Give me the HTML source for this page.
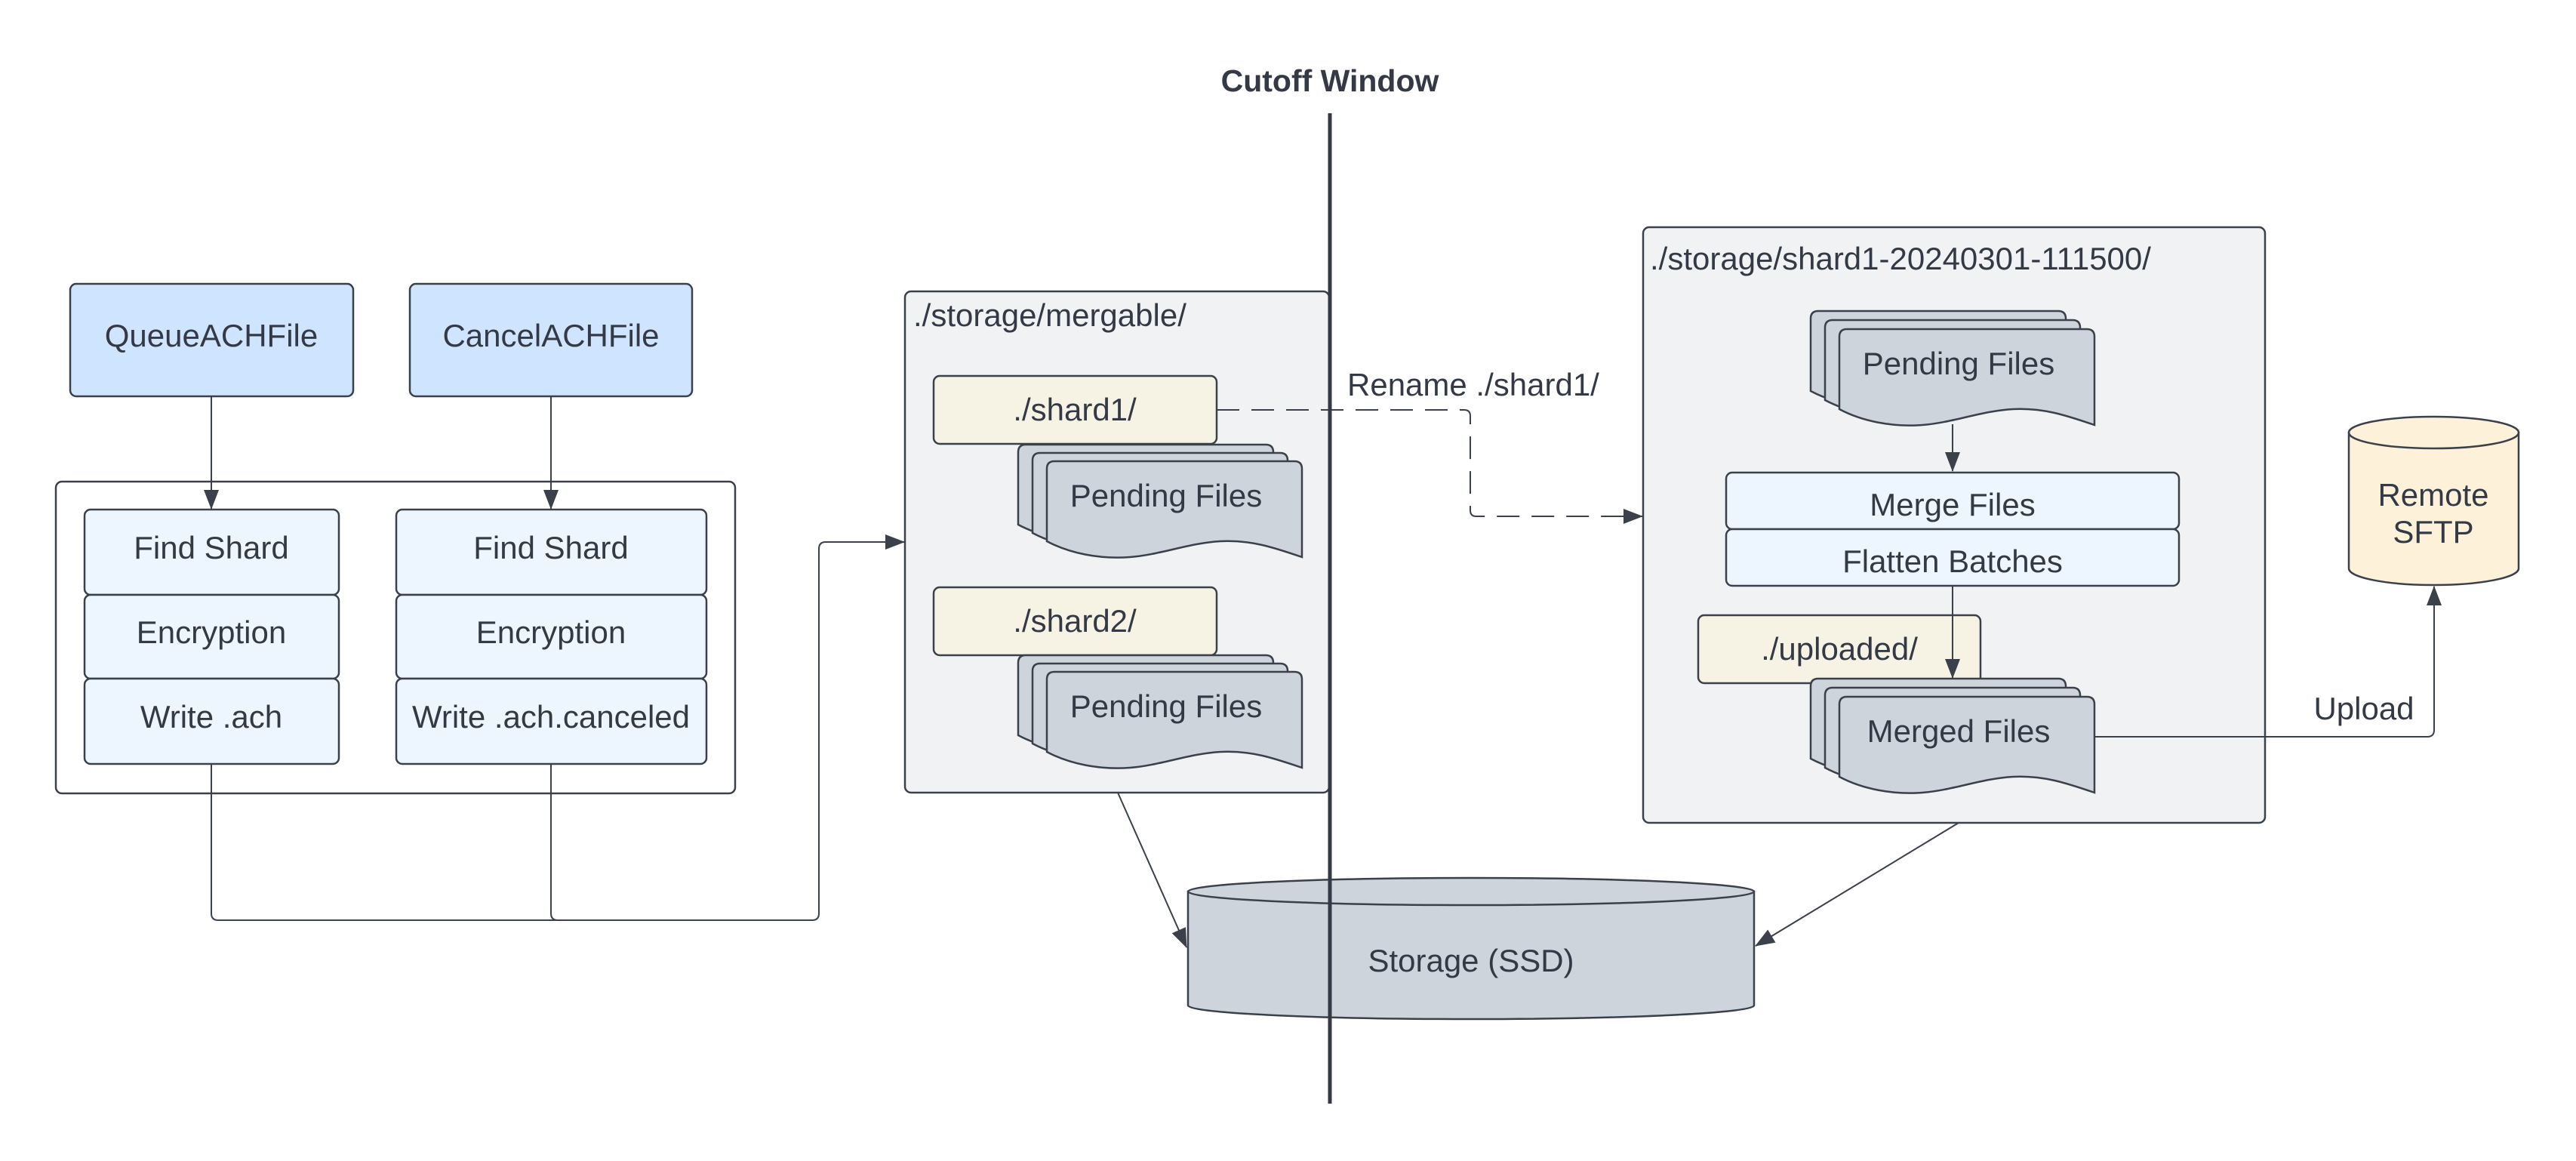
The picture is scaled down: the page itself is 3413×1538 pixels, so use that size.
<!DOCTYPE html>
<html><head><meta charset="utf-8"><style>
html,body{margin:0;padding:0;background:#fff;}
svg{display:block;}
text{font-family:"Liberation Sans",sans-serif;font-size:42px;fill:#333a45;}
</style></head><body>
<svg width="3413" height="1538" viewBox="0 0 3413 1538" xmlns="http://www.w3.org/2000/svg">
<defs>
<marker id="ah" viewBox="0 0 26 22" refX="25" refY="11" markerWidth="26" markerHeight="22" markerUnits="userSpaceOnUse" orient="auto">
<path d="M0,1 L26,11 L0,21 Z" fill="#3a414a"/>
</marker>
<path id="doc" d="M0,106 L0,10 Q0,0 10,0 L328,0 Q338,0 338,10 L338,127 C300,114 270,104 230,106 C190,108 150,124 110,127 C70,130 30,122 0,106 Z" fill="#cdd4dc" stroke="#3a414a" stroke-width="2.5"/>
</defs>

<text x="1762" y="121" text-anchor="middle" font-weight="bold" style="font-size:41px">Cutoff Window</text>

<rect x="93" y="376" width="375" height="149" rx="8" fill="#cfe4ff" stroke="#3a414a" stroke-width="2.5"/>
<text x="280" y="459" text-anchor="middle">QueueACHFile</text>
<rect x="543" y="376" width="374" height="149" rx="8" fill="#cfe4ff" stroke="#3a414a" stroke-width="2.5"/>
<text x="730" y="459" text-anchor="middle">CancelACHFile</text>

<rect x="74" y="638" width="900" height="413" rx="8" fill="#fff" stroke="#3a414a" stroke-width="2.5"/>

<rect x="112" y="675" width="337" height="113" rx="8" fill="#edf5ff" stroke="#3a414a" stroke-width="2.5"/>
<rect x="112" y="788" width="337" height="111" rx="8" fill="#edf5ff" stroke="#3a414a" stroke-width="2.5"/>
<rect x="112" y="899" width="337" height="113" rx="8" fill="#edf5ff" stroke="#3a414a" stroke-width="2.5"/>
<text x="280" y="740" text-anchor="middle">Find Shard</text>
<text x="280" y="852" text-anchor="middle">Encryption</text>
<text x="280" y="964" text-anchor="middle">Write .ach</text>

<rect x="525" y="675" width="411" height="113" rx="8" fill="#edf5ff" stroke="#3a414a" stroke-width="2.5"/>
<rect x="525" y="788" width="411" height="111" rx="8" fill="#edf5ff" stroke="#3a414a" stroke-width="2.5"/>
<rect x="525" y="899" width="411" height="113" rx="8" fill="#edf5ff" stroke="#3a414a" stroke-width="2.5"/>
<text x="730" y="740" text-anchor="middle">Find Shard</text>
<text x="730" y="852" text-anchor="middle">Encryption</text>
<text x="730" y="964" text-anchor="middle">Write .ach.canceled</text>

<g fill="none" stroke="#3a414a" stroke-width="2">
<line x1="280" y1="525" x2="280" y2="674" marker-end="url(#ah)"/>
<line x1="730" y1="525" x2="730" y2="674" marker-end="url(#ah)"/>
<path d="M280,1012 L280,1210 Q280,1219 289,1219 L1076,1219 Q1085,1219 1085,1210 L1085,727 Q1085,718 1094,718 L1198,718" marker-end="url(#ah)"/>
<path d="M730,1012 L730,1210 Q730,1219 739,1219"/>
</g>

<rect x="1199" y="386" width="562" height="664" rx="8" fill="#f1f2f4" stroke="#3a414a" stroke-width="2.5"/>
<text x="1210" y="432">./storage/mergable/</text>
<rect x="1237" y="498" width="375" height="90" rx="8" fill="#f6f3e4" stroke="#3a414a" stroke-width="2.5"/>
<text x="1424" y="557" text-anchor="middle">./shard1/</text>
<use href="#doc" x="1349" y="589"/>
<use href="#doc" x="1368" y="600"/>
<use href="#doc" x="1387" y="611"/>
<text x="1545" y="671" text-anchor="middle">Pending Files</text>
<rect x="1237" y="778" width="375" height="90" rx="8" fill="#f6f3e4" stroke="#3a414a" stroke-width="2.5"/>
<text x="1424" y="837" text-anchor="middle">./shard2/</text>
<use href="#doc" x="1349" y="868"/>
<use href="#doc" x="1368" y="879"/>
<use href="#doc" x="1387" y="890"/>
<text x="1545" y="950" text-anchor="middle">Pending Files</text>

<text x="1785" y="524">Rename ./shard1/</text>
<path d="M1612,543 L1940,543 Q1948,543 1948,551 L1948,676 Q1948,684 1956,684 L2176,684" fill="none" stroke="#3a414a" stroke-width="2" stroke-dasharray="30,16" marker-end="url(#ah)"/>

<rect x="2177" y="301" width="824" height="789" rx="8" fill="#f1f2f4" stroke="#3a414a" stroke-width="2.5"/>
<text x="2186" y="357">./storage/shard1-20240301-111500/</text>
<use href="#doc" x="2399" y="412"/>
<use href="#doc" x="2418" y="424"/>
<use href="#doc" x="2437" y="436"/>
<text x="2595" y="496" text-anchor="middle">Pending Files</text>
<line x1="2587" y1="562" x2="2587" y2="624" stroke="#3a414a" stroke-width="2" marker-end="url(#ah)"/>
<rect x="2287" y="626" width="600" height="75" rx="8" fill="#edf5ff" stroke="#3a414a" stroke-width="2.5"/>
<text x="2587" y="683" text-anchor="middle">Merge Files</text>
<rect x="2287" y="701" width="600" height="75" rx="8" fill="#edf5ff" stroke="#3a414a" stroke-width="2.5"/>
<text x="2587" y="758" text-anchor="middle">Flatten Batches</text>
<rect x="2250" y="815" width="374" height="90" rx="8" fill="#f6f3e4" stroke="#3a414a" stroke-width="2.5"/>
<text x="2437" y="874" text-anchor="middle">./uploaded/</text>
<line x1="2587" y1="776" x2="2587" y2="898" stroke="#3a414a" stroke-width="2" marker-end="url(#ah)"/>
<use href="#doc" x="2399" y="899"/>
<use href="#doc" x="2418" y="911"/>
<use href="#doc" x="2437" y="923"/>
<text x="2595" y="983" text-anchor="middle">Merged Files</text>

<path d="M2775,976 L3216,976 Q3225,976 3225,967 L3225,777" fill="none" stroke="#3a414a" stroke-width="2" marker-end="url(#ah)"/>
<text x="3132" y="953" text-anchor="middle">Upload</text>

<path d="M3112,573 L3112,753 A112.5,22 0 0 0 3337,753 L3337,573 Z" fill="#fdf1d9" stroke="#3a414a" stroke-width="2.5"/>
<ellipse cx="3224.5" cy="573" rx="112.5" ry="21" fill="#fdf1d9" stroke="#3a414a" stroke-width="2.5"/>
<text x="3224" y="670" text-anchor="middle">Remote</text>
<text x="3224" y="719" text-anchor="middle">SFTP</text>

<path d="M1574,1181 L1574,1332 A375,18 0 0 0 2324,1332 L2324,1181 Z" fill="#cdd4dc" stroke="#3a414a" stroke-width="2.5"/>
<ellipse cx="1949" cy="1181" rx="375" ry="18" fill="#cdd4dc" stroke="#3a414a" stroke-width="2.5"/>
<text x="1949" y="1287" text-anchor="middle">Storage (SSD)</text>

<line x1="1481" y1="1050" x2="1572" y2="1255" stroke="#3a414a" stroke-width="2" marker-end="url(#ah)"/>
<line x1="2595" y1="1090" x2="2326" y2="1253" stroke="#3a414a" stroke-width="2" marker-end="url(#ah)"/>

<line x1="1762" y1="150" x2="1762" y2="1462" stroke="#333a45" stroke-width="5"/>
</svg>
</body></html>
